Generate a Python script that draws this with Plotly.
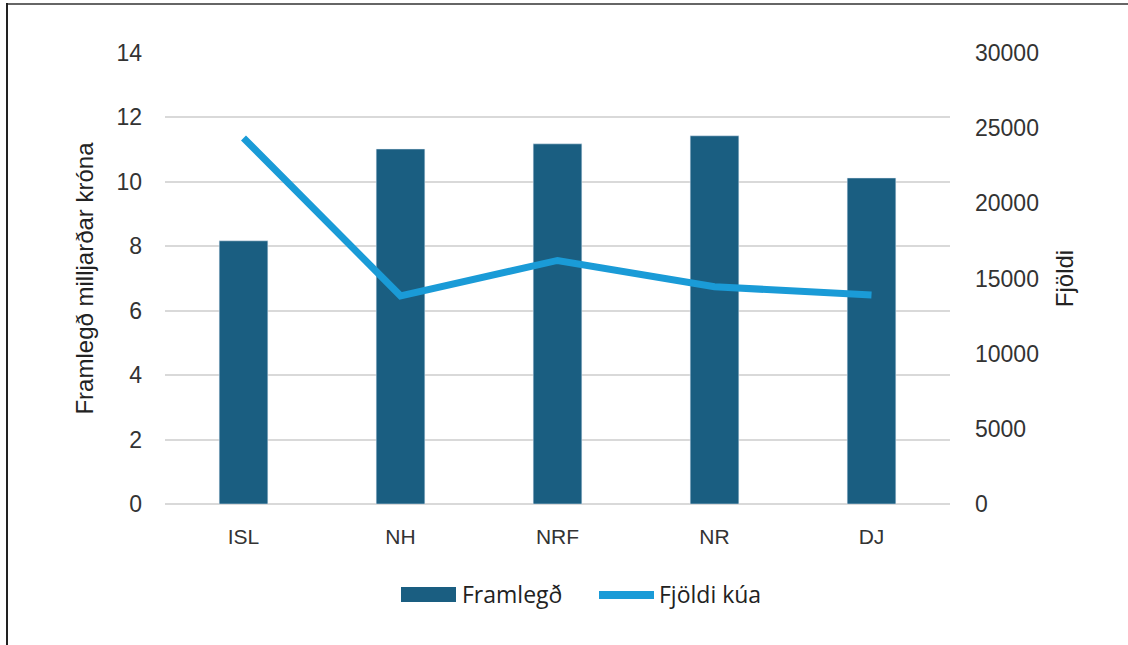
import plotly.graph_objects as go

categories = ["ISL", "NH", "NRF", "NR", "DJ"]
framlegd = [8.17, 11.02, 11.18, 11.43, 10.12]
fjoldi_kua = [24350, 13850, 16200, 14450, 13900]

left_ticks = [0, 2, 4, 6, 8, 10, 12, 14]
right_ticks = [0, 5000, 10000, 15000, 20000, 25000, 30000]
right_tick_text = ["0", "5000", "10000", "15000", "20000", "25000", "30000"]

BAR_COLOR = "#1A5E81"
LINE_COLOR = "#1A9BD7"
TICK_FONT = dict(family="Liberation Sans, Arial, sans-serif", size=23, color="#333333")
TITLE_FONT = dict(family="Liberation Sans, Arial, sans-serif", size=24, color="#222222")
LEGEND_FONT = dict(family="Open Sans, sans-serif", size=23, color="#222222")

W, H = 1128, 645
L, R, T, B = 165, 178, 53, 141
PW, PH = W - L - R, H - T - B


def px(x):
    return (x - L) / PW


def py(y):
    return (H - B - y) / PH


fig = go.Figure()
fig.add_trace(go.Bar(x=categories, y=framlegd, name="Framlegð", marker_color=BAR_COLOR,
                     showlegend=False, yaxis="y"))
fig.add_trace(go.Scatter(x=categories, y=fjoldi_kua, name="Fjöldi kúa", mode="lines",
                         line=dict(color=LINE_COLOR, width=7), showlegend=False, yaxis="y2"))

shapes = []
annotations = []
# legend (manual)
shapes.append(dict(type="rect", xref="paper", yref="paper", x0=px(401), x1=px(456),
                   y0=py(602), y1=py(587), fillcolor=BAR_COLOR, line_width=0))
shapes.append(dict(type="rect", xref="paper", yref="paper", x0=px(599), x1=px(654),
                   y0=py(599), y1=py(591), fillcolor=LINE_COLOR, line_width=0))
annotations.append(dict(xref="paper", yref="paper", x=px(460), y=py(594), text="Framlegð",
                        showarrow=False, xanchor="left", yanchor="middle", font=LEGEND_FONT))
annotations.append(dict(xref="paper", yref="paper", x=px(657), y=py(594), text="Fjöldi kúa",
                        showarrow=False, xanchor="left", yanchor="middle", font=LEGEND_FONT))
# frame border lines (top, left)
shapes.append(dict(type="line", xref="paper", yref="paper", x0=px(6), x1=px(1128),
                   y0=py(4), y1=py(4), line=dict(color="#666666", width=2)))
shapes.append(dict(type="line", xref="paper", yref="paper", x0=px(7), x1=px(7),
                   y0=py(3), y1=py(645), line=dict(color="#222222", width=2)))

fig.update_layout(
    width=W, height=H,
    margin=dict(l=L, r=R, t=T, b=B),
    paper_bgcolor="white", plot_bgcolor="white",
    bargap=0.69,
    showlegend=False,
    shapes=shapes,
    annotations=annotations,
    xaxis=dict(tickfont=dict(family="Liberation Sans, Arial, sans-serif", size=21, color="#333333"),
               showgrid=False, showline=False, ticks="", ticklabelstandoff=18),
    yaxis=dict(range=[0, 14], tickvals=left_ticks, tickfont=TICK_FONT,
               showgrid=True, gridcolor="#D9D9D9", gridwidth=2,
               zeroline=True, zerolinecolor="#D9D9D9", zerolinewidth=2,
               ticklabelstandoff=22,
               title=dict(text="Framlegð milljarðar króna", standoff=16, font=TITLE_FONT)),
    yaxis2=dict(range=[0, 30000], tickvals=right_ticks, ticktext=right_tick_text, tickfont=TICK_FONT,
                overlaying="y", side="right", showgrid=False, zeroline=False,
                ticklabelstandoff=24,
                title=dict(text="Fjöldi", standoff=18, font=TITLE_FONT)),
)

fig.write_html("out.html", config={"displayModeBar": False},
               post_script="document.body.style.margin='0';")
